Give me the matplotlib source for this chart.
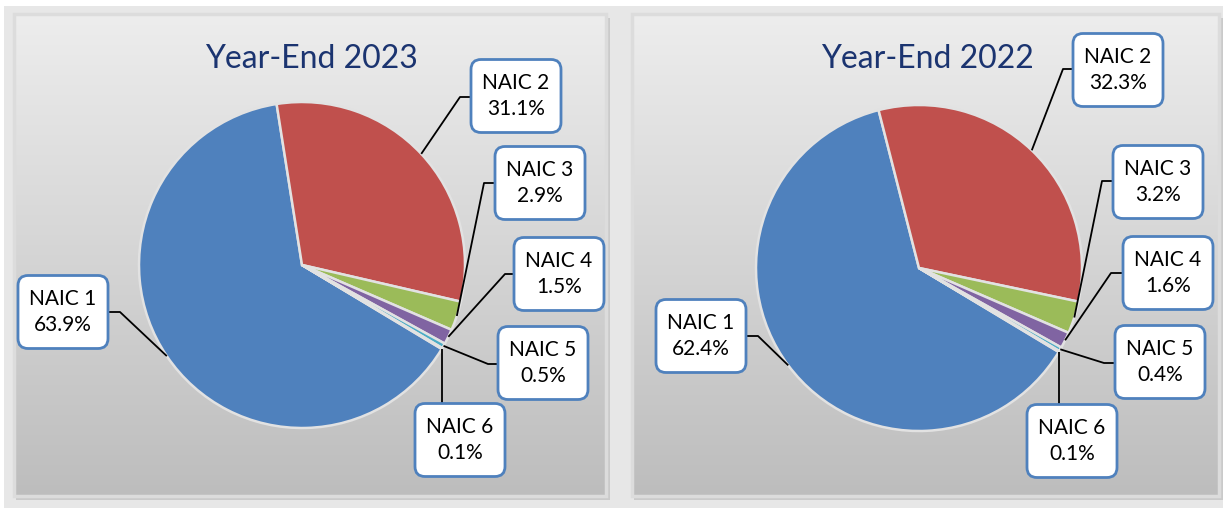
import numpy as np
import matplotlib
matplotlib.use("Agg")
import matplotlib.pyplot as plt
from matplotlib.patches import FancyBboxPatch, Rectangle
from matplotlib.colors import LinearSegmentedColormap

# ---------------- data ----------------
categories = ["NAIC 1", "NAIC 2", "NAIC 3", "NAIC 4", "NAIC 5", "NAIC 6"]
values_2023 = [63.9, 31.1, 2.9, 1.5, 0.5, 0.1]
values_2022 = [62.4, 32.3, 3.2, 1.6, 0.4, 0.1]
titles = ["Year-End 2023", "Year-End 2022"]

# ---------------- style ----------------
slice_colors = ["#4F81BD", "#C0504D", "#9BBB59", "#8064A2", "#4BACC6", "#F79646"]
title_color = "#1B3470"
box_edge = "#4F81BD"
plt.rcParams['font.family'] = ['Lato', 'DejaVu Sans']

W, H = 1223, 508
fig = plt.figure(figsize=(W / 100, H / 100), dpi=100)
fig.patch.set_facecolor('white')
ax = fig.add_axes([0, 0, 1, 1])
ax.axis('off')


def Y(y):
    return H - y


# outer background
ax.add_patch(Rectangle((4, 0), W - 4, Y(6), facecolor='#e7e7e7', edgecolor='none', zorder=0))

gray_cmap = LinearSegmentedColormap.from_list('g', ['#bdbdbd', '#d5d5d5', '#ededed'])

# layout: panel rect, pie centre, radius, title position, label boxes
# label entries: (box_cx, box_cy, elbow_x, elbow_y, side)
panels = [
    dict(x0=14, x1=606, y0=14, y1=496, center=(302, 265), radius=163, title_xy=(311, 59),
         labels=[(63, 312, 120, 312, 'right'),
                 (516, 96, 460, 97, 'left'),
                 (540, 183, 484, 183, 'left'),
                 (559, 274, 505, 274, 'left'),
                 (543, 363, 488, 364, 'left'),
                 (460, 440, None, None, 'top')]),
    dict(x0=632, x1=1219, y0=14, y1=496, center=(919, 268), radius=163, title_xy=(927, 59),
         labels=[(701, 336, 758, 336, 'right'),
                 (1118, 70, 1063, 69, 'left'),
                 (1158, 182, 1102, 181, 'left'),
                 (1168, 273, 1111, 273, 'left'),
                 (1160, 362, 1104, 363, 'left'),
                 (1072, 441, None, None, 'top')]),
]
series = [values_2023, values_2022]
BW, BH = 90, 73
RAD = 10

for p, vals, title in zip(panels, series, titles):
    x0, x1, y0, y1 = p['x0'], p['x1'], p['y0'], p['y1']
    # shadow
    ax.add_patch(Rectangle((x0 + 2, Y(y1) - 4), x1 - x0 + 2, y1 - y0, facecolor='#b8b8b8',
                           edgecolor='none', alpha=0.6, zorder=1))
    # gradient panel
    grad = np.linspace(0, 1, 256).reshape(-1, 1)
    ax.imshow(grad, extent=(x0, x1, Y(y1), Y(y0)), origin='lower', cmap=gray_cmap,
              aspect='auto', zorder=2)
    ax.add_patch(Rectangle((x0, Y(y1)), x1 - x0, y1 - y0, facecolor='none',
                           edgecolor='#dcdcdc', lw=2.5, zorder=3))
    # title
    ax.text(p['title_xy'][0], Y(p['title_xy'][1]), title, color=title_color, fontsize=23,
            ha='center', va='center', zorder=5)
    # pie
    cx, cy = p['center']
    r = p['radius']
    wedges, _ = ax.pie(vals, colors=slice_colors, startangle=-31, counterclock=False,
                       center=(cx, Y(cy)), radius=r,
                       wedgeprops=dict(edgecolor='#e2e2e2', linewidth=1.8, zorder=4))
    for w in wedges:
        w.set_zorder(4)
    # labels
    for w, cat, v, lab in zip(wedges, categories, vals, p['labels']):
        bx, by, ex, ey, side = lab
        mid = np.deg2rad((w.theta1 + w.theta2) / 2)
        axp = cx + r * np.cos(mid)
        ayp = Y(cy) + r * np.sin(mid)
        if side == 'top':
            xs = [axp, axp]
            ys = [ayp, Y(by - BH / 2)]
        else:
            attach = bx + BW / 2 if side == 'right' else bx - BW / 2
            xs = [axp, ex, attach]
            ys = [ayp, Y(ey), Y(ey)]
        ax.plot(xs, ys, color='black', lw=1.3, zorder=5, solid_capstyle='butt')
        ax.add_patch(FancyBboxPatch((bx - BW / 2 + RAD, Y(by) - BH / 2 + RAD),
                                    BW - 2 * RAD, BH - 2 * RAD,
                                    boxstyle=f'round,pad={RAD}', facecolor='white',
                                    edgecolor=box_edge, lw=2, zorder=6))
        ax.text(bx, Y(by), f"{cat}\n{v:.1f}%", ha='center', va='center', fontsize=15,
                linespacing=1.4, color='black', zorder=7)

ax.set_xlim(0, W)
ax.set_ylim(0, H)
ax.set_aspect('auto')
fig.savefig('out.png', dpi=100)
